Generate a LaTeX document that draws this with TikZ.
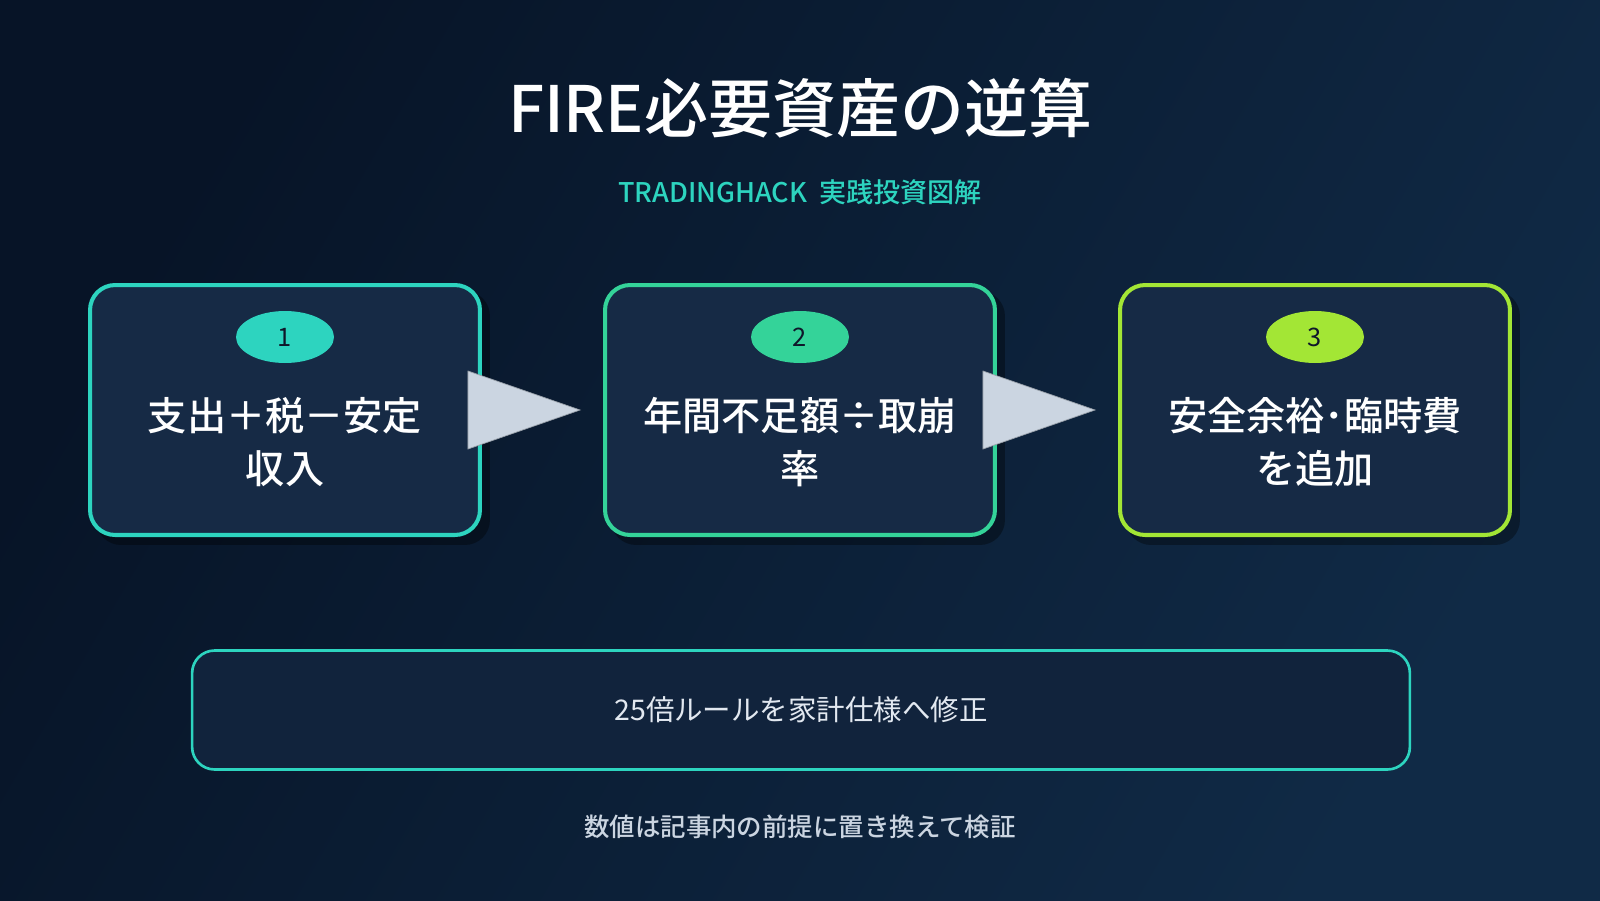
\documentclass[tikz,border=0pt]{standalone}
\usepackage{fontspec}
\setmainfont{Noto Sans CJK JP}
\newfontfamily\medfont{Noto Sans CJK JP Medium}
\usepackage{tikz}
\usetikzlibrary{shapes.geometric,positioning,calc}
\usepackage{xcolor}
\definecolor{bgdark}{HTML}{071427}
\definecolor{bglight}{HTML}{102A46}
\definecolor{cardfill}{HTML}{162A45}
\definecolor{stepteal}{HTML}{2DD4BF}
\definecolor{stepgreen}{HTML}{34D399}
\definecolor{steplime}{HTML}{A3E635}
\definecolor{arrowgrey}{HTML}{CBD5E1}
\definecolor{inkdark}{HTML}{0F172A}
\definecolor{textlight}{HTML}{E2E8F0}

\begin{document}
\begin{tikzpicture}[x=0.02cm,y=-0.02cm,
  card/.style={draw=#1,fill=cardfill,line width=2.3pt,rounded corners=0.5cm,
               minimum width=7.8cm,minimum height=5.0cm},
  cardshadow/.style={fill=black,opacity=0.35,rounded corners=0.5cm,
               minimum width=7.88cm,minimum height=5.08cm},
  badge/.style={ellipse,fill=#1,minimum width=1.96cm,minimum height=1.04cm,inner sep=0pt,
                text=inkdark,font=\fontsize{14.5}{16}\selectfont},
  steptext/.style={text=white,align=center,font=\medfont\fontsize{22.3}{30.5}\selectfont},
  notebox/.style={draw=stepteal,fill=cardfill!70!bgdark,line width=1.5pt,rounded corners=0.45cm,
                  minimum width=24.36cm,minimum height=2.38cm,text=textlight,
                  font=\fontsize{16.2}{18}\selectfont},
  tri/.style={fill=arrowgrey,draw=arrowgrey!75!black,line width=0.4pt}
]
  % Background
  \useasboundingbox (0,0) rectangle (1600,900);
  \shade[left color=bgdark,right color=bglight,shading angle=60] (0,0) rectangle (1600,900);
  % Title
  \node[text=white,font=\medfont\fontsize{36.4}{40}\selectfont] (title) at (800,108) {FIRE必要資産の逆算};
  \node[text=stepteal,font=\medfont\fontsize{15.4}{17}\selectfont] (sub) at (800,192) {TRADINGHACK\ \ 実践投資図解};
  % Shadows
  \node[cardshadow] (h1) at (293,418) {};
  \node[cardshadow] (h2) at (808,418) {};
  \node[cardshadow] (h3) at (1323,418) {};
  % Steps
  \node[card=stepteal] (s1) at (285,410) {};
  \node[card=stepgreen] (s2) at (800,410) {};
  \node[card=steplime] (s3) at (1315,410) {};
  \node[badge=stepteal] (b1) at (285,337) {1};
  \node[badge=stepgreen] (b2) at (800,337) {2};
  \node[badge=steplime] (b3) at (1315,337) {3};
  \node[steptext] (t1) at (285,442) {支出＋税－安定\\収入};
  \node[steptext] (t2) at (800,442) {年間不足額÷取崩\\率};
  \node[steptext] (t3) at (1315,442) {安全余裕･臨時費\\を追加};
  % Flow arrows
  \draw[tri] ($(s1.east)+(-14,-39)$) -- ($(s2.west)+(-23,0)$) -- ($(s1.east)+(-14,39)$) -- cycle;
  \draw[tri] ($(s2.east)+(-14,-39)$) -- ($(s3.west)+(-23,0)$) -- ($(s2.east)+(-14,39)$) -- cycle;
  % Note
  \node[notebox] (note) at (801,710) {25倍ルールを家計仕様へ修正};
  \node[text=arrowgrey,font=\medfont\fontsize{14.5}{17}\selectfont] (foot) at (800,827) {数値は記事内の前提に置き換えて検証};
\end{tikzpicture}
\end{document}
